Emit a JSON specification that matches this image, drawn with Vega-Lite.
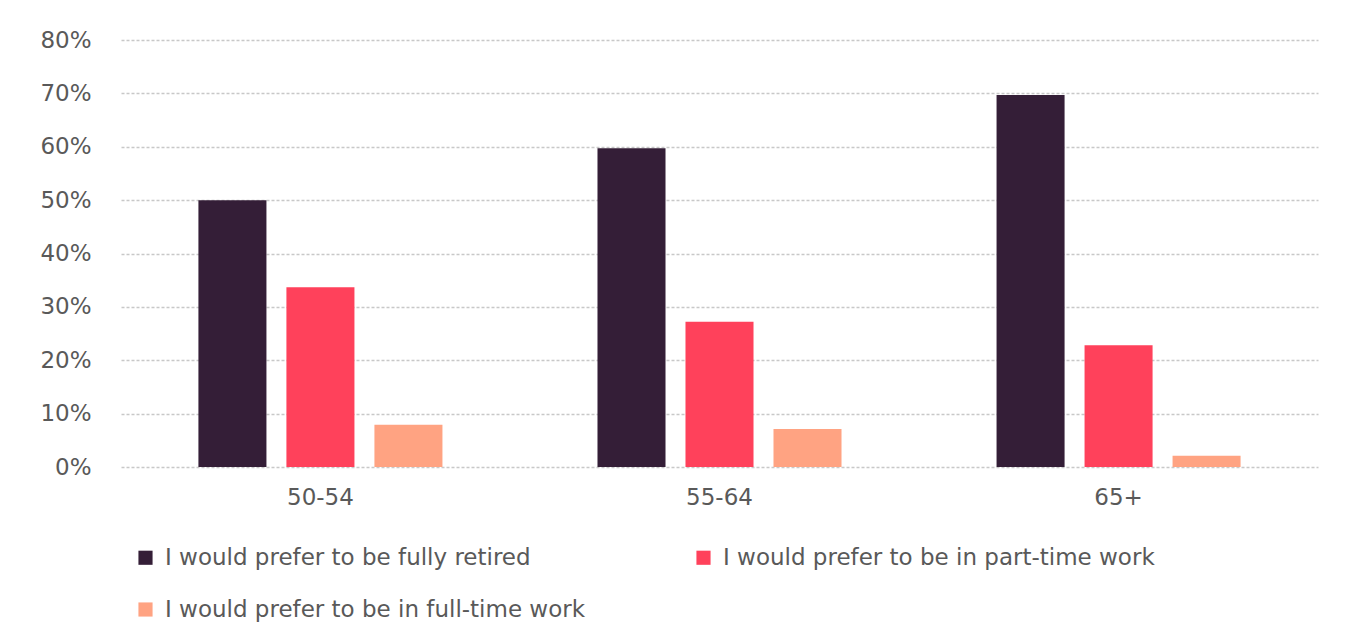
{
  "$schema": "https://vega.github.io/schema/vega-lite/v6.json",
  "autosize": {"type": "none"},
  "width": 1197,
  "height": 427,
  "padding": {"left": 121, "top": 40, "right": 42, "bottom": 177},
  "background": "white",
  "data": {"values": [
    {"age": "50-54", "pref": "I would prefer to be fully retired", "value": 0.50},
    {"age": "50-54", "pref": "I would prefer to be in part-time work", "value": 0.337},
    {"age": "50-54", "pref": "I would prefer to be in full-time work", "value": 0.079},
    {"age": "55-64", "pref": "I would prefer to be fully retired", "value": 0.597},
    {"age": "55-64", "pref": "I would prefer to be in part-time work", "value": 0.272},
    {"age": "55-64", "pref": "I would prefer to be in full-time work", "value": 0.071},
    {"age": "65+", "pref": "I would prefer to be fully retired", "value": 0.697},
    {"age": "65+", "pref": "I would prefer to be in part-time work", "value": 0.228},
    {"age": "65+", "pref": "I would prefer to be in full-time work", "value": 0.021}
  ]},
  "mark": {"type": "bar"},
  "encoding": {
    "x": {
      "field": "age", "type": "nominal", "sort": null, "title": null,
      "scale": {"paddingInner": 0.3885, "paddingOuter": 0.194},
      "axis": {"labelAngle": 0, "domain": false, "ticks": false, "labelPadding": 19, "labelFontSize": 23, "labelFont": "DejaVu Sans", "labelColor": "#595959", "grid": false}
    },
    "xOffset": {
      "field": "pref", "type": "nominal",
      "sort": ["I would prefer to be fully retired", "I would prefer to be in part-time work", "I would prefer to be in full-time work"],
      "scale": {"paddingInner": 0.227, "paddingOuter": 0}
    },
    "y": {
      "field": "value", "type": "quantitative", "title": null,
      "scale": {"domain": [0, 0.8], "nice": false},
      "axis": {"format": ".0%", "values": [0, 0.1, 0.2, 0.3, 0.4, 0.5, 0.6, 0.7, 0.8], "labelOverlap": false, "domain": false, "ticks": false, "labelPadding": 30, "labelFontSize": 23, "labelFont": "DejaVu Sans", "labelColor": "#595959", "gridColor": "#c8c8c8", "gridDash": [3, 2], "gridWidth": 1.5}
    },
    "color": {
      "field": "pref", "type": "nominal", "title": null,
      "sort": ["I would prefer to be fully retired", "I would prefer to be in part-time work", "I would prefer to be in full-time work"],
      "scale": {"domain": ["I would prefer to be fully retired", "I would prefer to be in part-time work", "I would prefer to be in full-time work"], "range": ["#341E37", "#FF415B", "#FFA382"]},
      "legend": {"orient": "none", "legendX": 13, "legendY": 506, "columns": 2, "direction": "horizontal", "symbolType": "square", "symbolSize": 200, "symbolStrokeWidth": 0, "labelFontSize": 23, "labelFont": "DejaVu Sans", "labelColor": "#595959", "labelLimit": 800, "columnPadding": 107, "rowPadding": 28, "labelOffset": 8}
    }
  },
  "config": {"view": {"stroke": null}}
}
